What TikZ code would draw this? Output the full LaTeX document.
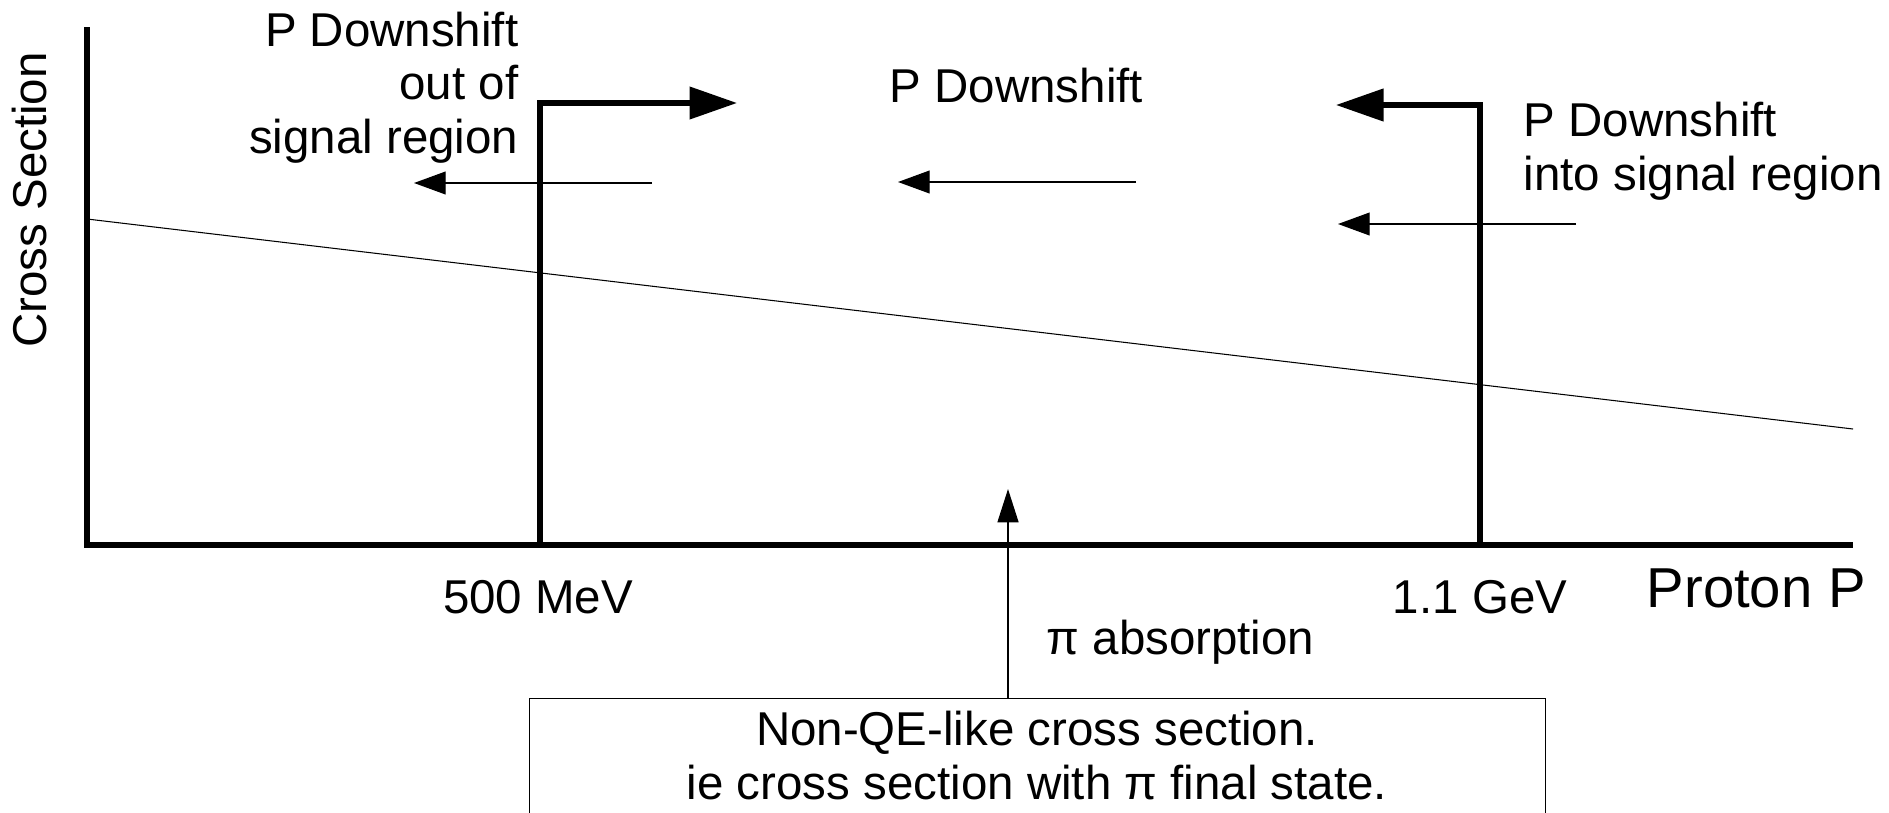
\documentclass[tikz,border=0pt]{standalone}
\usepackage{fontspec}
\setmainfont{Liberation Sans}
\usetikzlibrary{arrows.meta}
\begin{document}
\begin{tikzpicture}[x=0.01cm,y=-0.01cm,
  axis/.style={line width=1.6pt},
  bar/.style={line width=1.5pt,-{Triangle[length=13.5pt,width=9pt]}},
  thinarrow/.style={line width=0.35pt,-{Triangle[length=9pt,width=6.5pt]}},
  thinline/.style={line width=0.35pt},
  lbl/.style={inner sep=0pt,font=\fontsize{13.5}{15.2}\selectfont},
  biglbl/.style={inner sep=0pt,font=\fontsize{16}{19}\selectfont}]
\useasboundingbox (0,0) rectangle (1889,812);
\clip (0,0) rectangle (1889,812);
% axes
\coordinate (ytop) at (87,27);
\coordinate (orig) at (87,545);
\coordinate (xend) at (1853,545);
\draw[axis] (ytop) -- (orig) -- (xend);
% cross-section line
\coordinate (cs0) at (87,219);
\coordinate (cs1) at (1853,429);
\draw[line width=0.3pt] (cs0) -- (cs1);
% bars
\coordinate (b1) at (540,545);
\coordinate (b1t) at (540,103);
\coordinate (b1a) at (737,103);
\draw[bar] (b1) -- (b1t) -- (b1a);
\coordinate (b2) at (1480,545);
\coordinate (b2t) at (1480,105);
\coordinate (b2a) at (1336,105);
\draw[bar] (b2) -- (b2t) -- (b2a);
% thin arrows
\coordinate (a1s) at (652,183); \coordinate (a1e) at (414,183);
\coordinate (a2s) at (1136,182); \coordinate (a2e) at (898,182);
\coordinate (a3s) at (1576,224); \coordinate (a3e) at (1338,224);
\draw[thinarrow] (a1s) -- (a1e);
\draw[thinarrow] (a2s) -- (a2e);
\draw[thinarrow] (a3s) -- (a3e);
% labels
\node[lbl,anchor=base east,align=right] (lout) at (519,153) {P Downshift\\out of\\signal region};
\node[lbl,anchor=base west] (lmid) at (889,102) {P Downshift};
\node[lbl,anchor=base west,align=left] (linto) at (1523,190) {P Downshift\\into signal region};
\node[lbl,anchor=base] (l500) at (538,613) {500 MeV};
\node[lbl,anchor=base] (l11) at (1480,613) {1.1 GeV};
\node[lbl,anchor=base west] (lpi) at (1046,654) {π absorption};
\node[biglbl,anchor=base west] (lproton) at (1646,607) {Proton P};
\node[lbl,rotate=90,anchor=base] (lcross) at (47,200) {Cross Section};
% box
\node[draw,line width=0.35pt,anchor=north west,minimum width=1016.5*0.01cm,minimum height=1.6cm,inner sep=0pt] (box) at (528.5,698) {};
\node[lbl,anchor=base,align=center] (boxtext) at (1037,799) {Non-QE-like cross section.\\ie cross section with π final state.};
\coordinate (pitip) at (1008,489);
\draw[thinarrow,-{Triangle[length=9.5pt,width=6pt]}] (box.north west -| pitip) -- (pitip);
\end{tikzpicture}
\end{document}
